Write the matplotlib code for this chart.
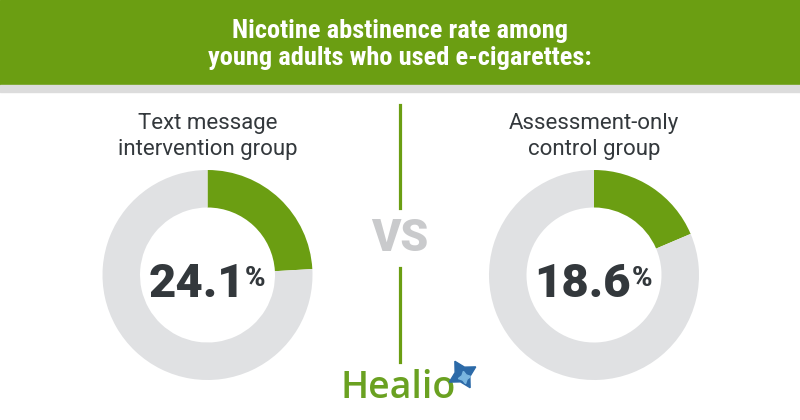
import matplotlib.pyplot as plt
from matplotlib.lines import Line2D

# datos
title_lines = ["Nicotine abstinence rate among", "young adults who used e-cigarettes:"]
groups = ["Text message\nintervention group", "Assessment-only\ncontrol group"]
rates = [24.1, 18.6]
vs_label = "VS"
brand = "Healio"

green = "#6b9e12"
ring_gray = "#e0e1e3"
dark = "#33383c"
narrow = ["Liberation Sans Narrow", "Roboto Condensed", "Roboto"]

W, H = 800, 420
fig = plt.figure(figsize=(8, 4.2), dpi=100)
ax = fig.add_axes([0, 0, 1, 1])

# cabecera
ax.add_patch(plt.Rectangle((0, H - 85), W, 85, color=green, zorder=0))
ax.add_patch(plt.Rectangle((0, H - 92), W, 7, color="#dcdcdc", zorder=0))
ax.text(400, H - 38, title_lines[0], ha="center", va="baseline", color="white",
        fontsize=19, fontweight="bold", family=narrow)
ax.text(400, H - 65, title_lines[1], ha="center", va="baseline", color="white",
        fontsize=19, fontweight="bold", family=narrow)

# donuts
centers = [207.5, 594]
cy = H - 275
for cx, g, r in zip(centers, groups, rates):
    ax.pie([r, 100 - r], colors=[green, ring_gray], startangle=90, counterclock=False,
           center=(cx, cy), radius=105, wedgeprops=dict(width=37.5, linewidth=0),
           frame=True)
    ax.text(cx, H - 129, g.split("\n")[0], ha="center", va="baseline", color=dark,
            fontsize=16, family="Roboto")
    ax.text(cx, H - 155, g.split("\n")[1], ha="center", va="baseline", color=dark,
            fontsize=16, family="Roboto")
    num = ax.text(cx - 11, H - 297, f"{r:.1f}", ha="center", va="baseline", color=dark,
                  fontsize=34, fontweight="heavy", family="Roboto")
    ax.annotate("%", xy=(1, 1), xycoords=num, xytext=(0.3, -2), textcoords="offset points",
                ha="left", va="top", color=dark, fontsize=20, fontweight="heavy", family="Roboto")

# VS y línea
ax.text(400, H - 239, vs_label, ha="center", va="center", color="#c9cacc",
        fontsize=32, fontweight="heavy", family="Roboto")
ax.add_line(Line2D([400, 400], [H - 105, H - 208], color=green, lw=2.3))
ax.add_line(Line2D([400, 400], [H - 268, H - 362], color=green, lw=2.3))

# logo
ax.text(341, H - 398, brand, ha="left", va="baseline", color="#6aa121",
        fontsize=27, fontweight="semibold", family="Open Sans")
ax.plot([462], [H - 374], marker=(4, 1, 30), markersize=22, color="#2c6aa8", zorder=3)
ax.plot([464], [H - 377], marker=(4, 1, 10), markersize=9, color="#7ab6e0", zorder=4)

ax.set_xlim(0, W)
ax.set_ylim(0, H)
ax.set_aspect("equal")
ax.axis("off")

fig.savefig("out.png", dpi=100)
